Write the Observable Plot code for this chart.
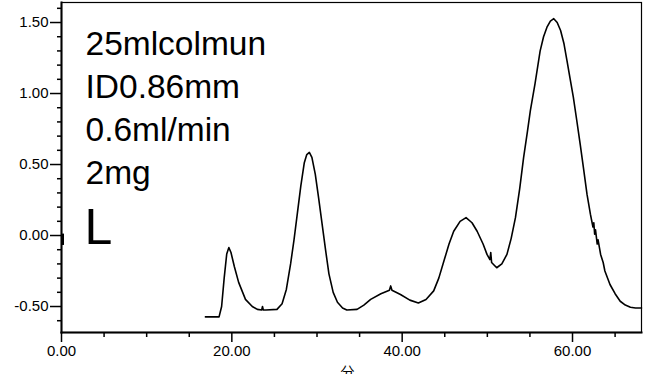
<!DOCTYPE html>
<html><head><meta charset="utf-8">
<script src="https://cdn.jsdelivr.net/npm/d3@7"></script>
<script src="https://cdn.jsdelivr.net/npm/@observablehq/plot@0.6"></script>
<style>body{margin:0;background:#fff}#chart svg{display:block}</style>
</head><body><div id="chart"></div>
<script>
// Chromatogram trace (minutes vs detector signal)
const time = [16.9, 18.5, 18.8, 19.1, 19.4, 19.65, 19.9, 20.3, 20.8, 21.6, 22.4, 23.0, 23.5, 23.6, 23.7, 24.0, 25.3, 25.9, 26.4, 26.9, 27.3, 27.7, 28.1, 28.5, 28.8, 29.1, 29.4, 29.8, 30.2, 30.6, 31.0, 31.4, 31.9, 32.4, 33.0, 33.5, 34.7, 35.5, 36.3, 37.5, 38.5, 38.65, 38.8, 39.8, 40.9, 41.9, 42.8, 43.7, 44.3, 44.9, 45.5, 46.05, 46.8, 47.5, 48.2, 48.8, 49.5, 49.96, 50.3, 50.4, 50.5, 51.1, 51.7, 52.3, 52.8, 53.3, 53.8, 54.26, 54.7, 55.05, 55.6, 56.2, 56.6, 57.0, 57.4, 57.8, 58.2, 58.6, 59.0, 59.35, 59.7, 60.1, 60.5, 60.9, 61.3, 61.7, 62.1, 62.4, 62.5, 62.6, 62.7, 62.9, 63.0, 63.3, 63.6, 63.8, 64.4, 65.0, 65.6, 66.2, 66.8, 67.4, 68.1];
const signal = [-0.573, -0.573, -0.50, -0.30, -0.13, -0.085, -0.12, -0.22, -0.33, -0.45, -0.50, -0.52, -0.525, -0.50, -0.525, -0.525, -0.52, -0.48, -0.38, -0.20, -0.03, 0.16, 0.35, 0.51, 0.57, 0.585, 0.55, 0.43, 0.26, 0.08, -0.10, -0.27, -0.40, -0.47, -0.51, -0.525, -0.52, -0.49, -0.45, -0.41, -0.385, -0.355, -0.385, -0.415, -0.455, -0.475, -0.45, -0.39, -0.30, -0.18, -0.06, 0.03, 0.10, 0.126, 0.09, 0.03, -0.06, -0.133, -0.17, -0.12, -0.19, -0.227, -0.20, -0.133, -0.02, 0.126, 0.33, 0.55, 0.73, 0.88, 1.07, 1.30, 1.40, 1.467, 1.51, 1.527, 1.50, 1.444, 1.35, 1.232, 1.11, 0.973, 0.81, 0.644, 0.47, 0.291, 0.15, 0.06, 0.09, 0.01, 0.04, -0.06, -0.03, -0.133, -0.19, -0.25, -0.345, -0.41, -0.463, -0.49, -0.505, -0.51, -0.51];

const xMajorTicks = [0, 20, 40, 60];
const xMinorTicks = [5, 10, 15, 25, 30, 35, 45, 50, 55, 65];
const yMajorTicks = [-0.5, 0, 0.5, 1.0, 1.5];
const yMinorTicks = [-0.6, -0.4, -0.3, -0.2, -0.1, 0.1, 0.2, 0.3, 0.4, 0.6, 0.7, 0.8, 0.9, 1.1, 1.2, 1.3, 1.4, 1.6];
const annotationLines = ["25mlcolmun", "ID0.86mm", "0.6ml/min", "2mg"];
const sampleLabel = "L";
const xUnitLabel = "分";
const zeroMarkSpan = [0.01, -0.07];

const data = time.map((t, i) => ({time: t, signal: signal[i]}));
const fmt = d => d.toFixed(2);

const textMarks = annotationLines.map((t, i) =>
  Plot.text([t], {
    frameAnchor: "top-left", dx: 24, dy: 52 + i * 43, lineAnchor: "bottom",
    textAnchor: "start", fontSize: 33.5, fontFamily: "Liberation Sans",
    fill: "#000", letterSpacing: "2.3px"
  })
);

const chart = Plot.plot({
  width: 649,
  height: 374,
  marginLeft: 61,
  marginRight: 8,
  marginTop: 2,
  marginBottom: 42,
  style: {fontFamily: "Liberation Sans", fontSize: "15px", color: "#000", background: "#fff"},
  x: {domain: [0, 68.1]},
  y: {domain: [-0.683, 1.641]},
  marks: [
    Plot.axisY({ticks: yMinorTicks, tickSize: 4, tickFormat: () => "", label: null, strokeWidth: 1.5}),
    Plot.axisY({ticks: yMajorTicks, tickSize: 11, tickPadding: 2, tickFormat: fmt, label: null, strokeWidth: 1.5}),
    Plot.axisX({ticks: xMinorTicks, tickSize: 5, tickFormat: () => "", label: null, strokeWidth: 1.5}),
    Plot.axisX({ticks: xMajorTicks, tickSize: 10, tickPadding: 3, tickFormat: fmt, label: null, strokeWidth: 1.5}),
    Plot.frame({stroke: "#000", strokeWidth: 1.2}),
    Plot.frame({anchor: "left", stroke: "#000", strokeWidth: 2}),
    Plot.frame({anchor: "bottom", stroke: "#000", strokeWidth: 2}),
    Plot.ruleX([0], {y1: zeroMarkSpan[0], y2: zeroMarkSpan[1], stroke: "#000", strokeWidth: 3, dx: 1}),
    Plot.line(data, {x: "time", y: "signal", stroke: "#000", strokeWidth: 1.6}),
    ...textMarks,
    Plot.text([sampleLabel], {
      frameAnchor: "top-left", dx: 23, dy: 241, lineAnchor: "bottom",
      textAnchor: "start", fontSize: 50, fontFamily: "Liberation Sans", fill: "#000"
    }),
    Plot.text([xUnitLabel], {
      frameAnchor: "bottom", dx: -4, dy: 35, lineAnchor: "top",
      fontSize: 14, fontFamily: "Noto Sans CJK JP", fill: "#000"
    })
  ]
});
document.getElementById("chart").appendChild(chart);
</script>
</body></html>
